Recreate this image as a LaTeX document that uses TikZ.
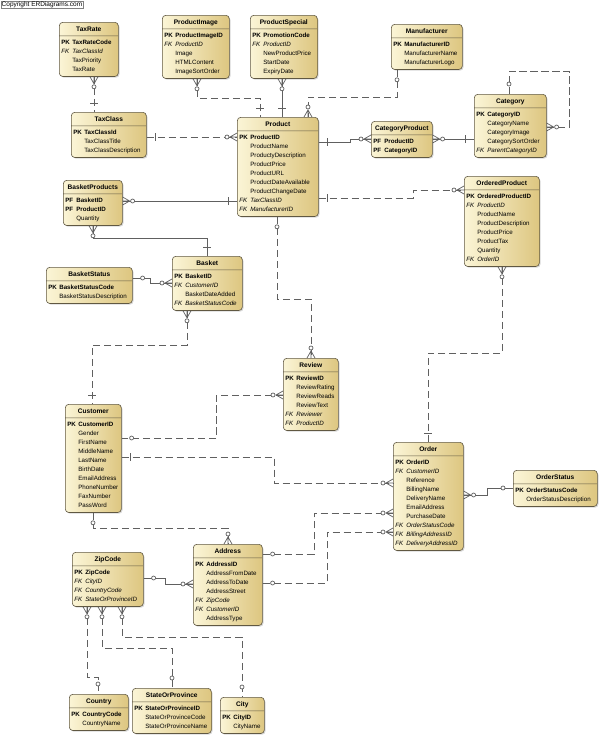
\documentclass[tikz,border=0pt]{standalone}
\usepackage{fontspec}
\setmainfont{Liberation Sans}
\usepackage{tikz}
\usetikzlibrary{shapes.multipart,shadows}

\definecolor{entLight}{RGB}{251,245,214}
\definecolor{entDark}{RGB}{221,198,128}
\definecolor{entLine}{RGB}{96,88,66}
\definecolor{relLine}{RGB}{96,96,96}

\newcommand{\rs}{\rule[-2.5pt]{0pt}{9pt}}
\newcommand{\etitle}[1]{\makebox[\linewidth]{\fontsize{6.6}{9}\selectfont\bfseries\rs #1}}
\newcommand{\pkey}[1]{\rs\makebox[11pt][l]{\bfseries PK}\mbox{\bfseries #1}}
\newcommand{\pfkey}[1]{\rs\makebox[11pt][l]{\bfseries PF}\mbox{\bfseries #1}}
\newcommand{\fkey}[1]{\rs\mbox{\itshape\makebox[11pt][l]{FK}#1}}
\newcommand{\attr}[1]{\rs\hspace*{11pt}\mbox{#1}}

\begin{document}
\begin{tikzpicture}[x=1pt,y=-1pt,
  idrel/.style={draw=relLine,line width=0.7pt},
  nonid/.style={idrel,dash pattern=on 7.5pt off 3.5pt},
  tipline/.style={draw=relLine,line width=0.7pt,solid},
  zmany/.pic={\draw[tipline] (0,-4) -- (7,0) -- (0,4) (0,0) -- (7,0);
    \draw[tipline,fill=white] (10,0) circle (2pt);},
  one/.pic={\draw[tipline] (9,-4) -- (9,4);},
  zone/.pic={\draw[tipline,fill=white] (10,0) circle (2pt);}]
  \tikzstyle{entity}=[rectangle split,rectangle split parts=2,draw=entLine,line width=0.6pt,
    rounded corners=3.5pt,left color=entLight,right color=entDark,
    drop shadow={shadow xshift=1.2pt,shadow yshift=-1.2pt,opacity=0.3},
    anchor=north west,align=left,inner xsep=2pt,inner ysep=2pt,font=\fontsize{6.2}{9}\selectfont]

  \useasboundingbox (0,0) rectangle (600,737);

  \node[draw=gray,fill=white,anchor=north west,inner xsep=1pt,inner ysep=0.8pt,
    font=\fontsize{6.5}{7}\selectfont] (copyright) at (0.5,0.5) {Copyright ERDiagrams.com};

  \node[entity,text width=55pt] (TaxRate) at (59,22) {\etitle{TaxRate}\nodepart{two}\pkey{TaxRateCode}\\ \fkey{TaxClassId}\\ \attr{TaxPriority}\\ \attr{TaxRate}};
  \node[entity,text width=63pt] (ProductImage) at (162,15) {\etitle{ProductImage}\nodepart{two}\pkey{ProductImageID}\\ \fkey{ProductID}\\ \attr{Image}\\ \attr{HTMLContent}\\ \attr{ImageSortOrder}};
  \node[entity,text width=63pt] (ProductSpecial) at (250,15) {\etitle{ProductSpecial}\nodepart{two}\pkey{PromotionCode}\\ \fkey{ProductID}\\ \attr{NewProductPrice}\\ \attr{StartDate}\\ \attr{ExpiryDate}};
  \node[entity,text width=67pt] (Manufacturer) at (391,24) {\etitle{Manufacturer}\nodepart{two}\pkey{ManufacturerID}\\ \attr{ManufacturerName}\\ \attr{ManufacturerLogo}};
  \node[entity,text width=71pt] (TaxClass) at (71,112) {\etitle{TaxClass}\nodepart{two}\pkey{TaxClassId}\\ \attr{TaxClassTitle}\\ \attr{TaxClassDescription}};
  \node[entity,text width=77pt] (Product) at (237,117) {\etitle{Product}\nodepart{two}\pkey{ProductID}\\ \attr{ProductName}\\ \attr{ProductyDescription}\\ \attr{ProductPrice}\\ \attr{ProductURL}\\ \attr{ProductDateAvailable}\\ \attr{ProductChangeDate}\\ \fkey{TaxClassID}\\ \fkey{ManufacturerID}};
  \node[entity,text width=57pt] (CategoryProduct) at (371,121) {\etitle{CategoryProduct}\nodepart{two}\pfkey{ProductID}\\ \pfkey{CategoryID}};
  \node[entity,text width=68pt] (Category) at (474,94) {\etitle{Category}\nodepart{two}\pkey{CategoryID}\\ \attr{CategoryName}\\ \attr{CategoryImage}\\ \attr{CategorySortOrder}\\ \fkey{ParentCategoryID}};
  \node[entity,text width=55pt] (BasketProducts) at (63,180) {\etitle{BasketProducts}\nodepart{two}\pfkey{BasketID}\\ \pfkey{ProductID}\\ \attr{Quantity}};
  \node[entity,text width=71pt] (OrderedProduct) at (464,176) {\etitle{OrderedProduct}\nodepart{two}\pkey{OrderedProductID}\\ \fkey{ProductID}\\ \attr{ProductName}\\ \attr{ProductDescription}\\ \attr{ProductPrice}\\ \attr{ProductTax}\\ \attr{Quantity}\\ \fkey{OrderID}};
  \node[entity,text width=66pt] (Basket) at (172,256) {\etitle{Basket}\nodepart{two}\pkey{BasketID}\\ \fkey{CustomerID}\\ \attr{BasketDateAdded}\\ \fkey{BasketStatusCode}};
  \node[entity,text width=82pt] (BasketStatus) at (46,267) {\etitle{BasketStatus}\nodepart{two}\pkey{BasketStatusCode}\\ \attr{BasketStatusDescription}};
  \node[entity,text width=51pt] (Review) at (283,358) {\etitle{Review}\nodepart{two}\pkey{ReviewID}\\ \attr{ReviewRating}\\ \attr{ReviewReads}\\ \attr{ReviewText}\\ \fkey{Reviewer}\\ \fkey{ProductID}};
  \node[entity,text width=52pt] (Customer) at (65,404) {\etitle{Customer}\nodepart{two}\pkey{CustomerID}\\ \attr{Gender}\\ \attr{FirstName}\\ \attr{MiddleName}\\ \attr{LastName}\\ \attr{BirthDate}\\ \attr{EmailAddress}\\ \attr{PhoneNumber}\\ \attr{FaxNumber}\\ \attr{PassWord}};
  \node[entity,text width=66pt] (Order) at (393,442) {\etitle{Order}\nodepart{two}\pkey{OrderID}\\ \fkey{CustomerID}\\ \attr{Reference}\\ \attr{BillingName}\\ \attr{DeliveryName}\\ \attr{EmailAddress}\\ \attr{PurchaseDate}\\ \fkey{OrderStatusCode}\\ \fkey{BillingAddressID}\\ \fkey{DeliveryAddressID}};
  \node[entity,text width=80pt] (OrderStatus) at (513,470) {\etitle{OrderStatus}\nodepart{two}\pkey{OrderStatusCode}\\ \attr{OrderStatusDescription}};
  \node[entity,text width=65pt] (Address) at (193,544) {\etitle{Address}\nodepart{two}\pkey{AddressID}\\ \attr{AddressFromDate}\\ \attr{AddressToDate}\\ \attr{AddressStreet}\\ \fkey{ZipCode}\\ \fkey{CustomerID}\\ \attr{AddressType}};
  \node[entity,text width=67pt] (ZipCode) at (72,552) {\etitle{ZipCode}\nodepart{two}\pkey{ZipCode}\\ \fkey{CityID}\\ \fkey{CountryCode}\\ \fkey{StateOrProvinceID}};
  \node[entity,text width=55pt] (Country) at (69,694) {\etitle{Country}\nodepart{two}\pkey{CountryCode}\\ \attr{CountryName}};
  \node[entity,text width=75pt] (StateOrProvince) at (132,688) {\etitle{StateOrProvince}\nodepart{two}\pkey{StateOrProvinceID}\\ \attr{StateOrProvinceCode}\\ \attr{StateOrProvinceName}};
  \node[entity,text width=40pt] (City) at (220,697) {\etitle{City}\nodepart{two}\pkey{CityID}\\ \attr{CityName}};

  \draw[nonid] (TaxRate.south -| 94,0) -- (TaxClass.north -| 94,0);
  \draw[nonid] (TaxClass.east |- 0,137) -- (Product.west |- 0,137);
  \draw[nonid] (ProductImage.south -| 197,0) |- (260,98) -- (Product.north -| 260,0);
  \draw[idrel] (ProductSpecial.south -| 282,0) -- (Product.north -| 282,0);
  \draw[nonid] (Manufacturer.south -| 397,0) |- (308,97) -- (Product.north -| 308,0);
  \draw[idrel] (Product.east |- 0,142) -| (350,139) -- (CategoryProduct.west |- 0,139);
  \draw[idrel] (CategoryProduct.east |- 0,139) -- (Category.west |- 0,139);
  \draw[nonid] (Category.north -| 509,0) |- (569,71) |- (Category.east |- 0,127);
  \draw[idrel] (BasketProducts.east |- 0,201) -- (Product.west |- 0,201);
  \draw[idrel] (BasketProducts.south -| 93,0) |- (207,238) -- (Basket.north -| 207,0);
  \draw[idrel] (BasketStatus.east |- 0,278) -| (150,283) -- (Basket.west |- 0,283);
  \draw[nonid] (Basket.south -| 187,0) |- (92,345) -- (Customer.north -| 92,0);
  \draw[nonid] (Product.south -| 277,0) |- (311,299) -- (Review.north -| 311,0);
  \draw[nonid] (Review.west |- 0,395) -| (216,438) -- (Customer.east |- 0,438);
  \draw[nonid] (Customer.east |- 0,457) -| (274,483) -- (Order.west |- 0,483);
  \draw[nonid] (Product.east |- 0,198) -| (413,190) -- (OrderedProduct.west |- 0,190);
  \draw[nonid] (OrderedProduct.south -| 502,0) |- (428,353) -- (Order.north -| 428,0);
  \draw[idrel] (Order.east |- 0,495) -| (487,488) -- (OrderStatus.west |- 0,488);
  \draw[nonid] (Customer.south -| 93,0) |- (228,528) -- (Address.north -| 228,0);
  \draw[nonid] (Address.east |- 0,554) -| (314,513) -- (Order.west |- 0,513);
  \draw[nonid] (Address.east |- 0,583) -| (327,532) -- (Order.west |- 0,532);
  \draw[idrel] (ZipCode.east |- 0,578) -| (165,584) -- (Address.west |- 0,584);
  \draw[nonid] (ZipCode.south -| 87,0) |- (98,677) -- (Country.north -| 98,0);
  \draw[nonid] (ZipCode.south -| 102,0) |- (172,648) -- (StateOrProvince.north -| 172,0);
  \draw[nonid] (ZipCode.south -| 122,0) |- (242,637) -- (City.north -| 242,0);

  \path (TaxRate.south -| 94,0) pic[rotate=-90]{zmany} (TaxClass.north -| 94,0) pic[rotate=90]{one};
  \path (TaxClass.east |- 0,137) pic{one} (Product.west |- 0,137) pic[rotate=180]{zmany};
  \path (ProductImage.south -| 197,0) pic[rotate=-90]{zmany} (Product.north -| 260,0) pic[rotate=90]{one};
  \path (ProductSpecial.south -| 282,0) pic[rotate=-90]{zmany} (Product.north -| 282,0) pic[rotate=90]{one};
  \path (Manufacturer.south -| 397,0) pic[rotate=-90]{zone} (Product.north -| 308,0) pic[rotate=90]{zmany};
  \path (Product.east |- 0,142) pic{one} (CategoryProduct.west |- 0,139) pic[rotate=180]{zmany};
  \path (CategoryProduct.east |- 0,139) pic{zmany} (Category.west |- 0,139) pic[rotate=180]{one};
  \path (Category.north -| 509,0) pic[rotate=90]{zone} (Category.east |- 0,127) pic{zmany};
  \path (BasketProducts.east |- 0,201) pic{zmany} (Product.west |- 0,201) pic[rotate=180]{one};
  \path (BasketProducts.south -| 93,0) pic[rotate=-90]{zmany} (Basket.north -| 207,0) pic[rotate=90]{one};
  \path (BasketStatus.east |- 0,278) pic{zone} (Basket.west |- 0,283) pic[rotate=180]{zmany};
  \path (Basket.south -| 187,0) pic[rotate=-90]{zmany} (Customer.north -| 92,0) pic[rotate=90]{one};
  \path (Product.south -| 277,0) pic[rotate=-90]{zone} (Review.north -| 311,0) pic[rotate=90]{zmany};
  \path (Review.west |- 0,395) pic[rotate=180]{zmany} (Customer.east |- 0,438) pic{zone};
  \path (Customer.east |- 0,457) pic{one} (Order.west |- 0,483) pic[rotate=180]{zmany};
  \path (Product.east |- 0,198) pic{one} (OrderedProduct.west |- 0,190) pic[rotate=180]{zmany};
  \path (OrderedProduct.south -| 502,0) pic[rotate=-90]{zmany} (Order.north -| 428,0) pic[rotate=90]{one};
  \path (Order.east |- 0,495) pic{zmany} (OrderStatus.west |- 0,488) pic[rotate=180]{zone};
  \path (Customer.south -| 93,0) pic[rotate=-90]{zone} (Address.north -| 228,0) pic[rotate=90]{zmany};
  \path (Address.east |- 0,554) pic{zone} (Order.west |- 0,513) pic[rotate=180]{zmany};
  \path (Address.east |- 0,583) pic{zone} (Order.west |- 0,532) pic[rotate=180]{zmany};
  \path (ZipCode.east |- 0,578) pic{zone} (Address.west |- 0,584) pic[rotate=180]{zmany};
  \path (ZipCode.south -| 87,0) pic[rotate=-90]{zmany} (Country.north -| 98,0) pic[rotate=90]{zone};
  \path (ZipCode.south -| 102,0) pic[rotate=-90]{zmany} (StateOrProvince.north -| 172,0) pic[rotate=90]{zone};
  \path (ZipCode.south -| 122,0) pic[rotate=-90]{zmany} (City.north -| 242,0) pic[rotate=90]{zone};
\end{tikzpicture}
\end{document}
